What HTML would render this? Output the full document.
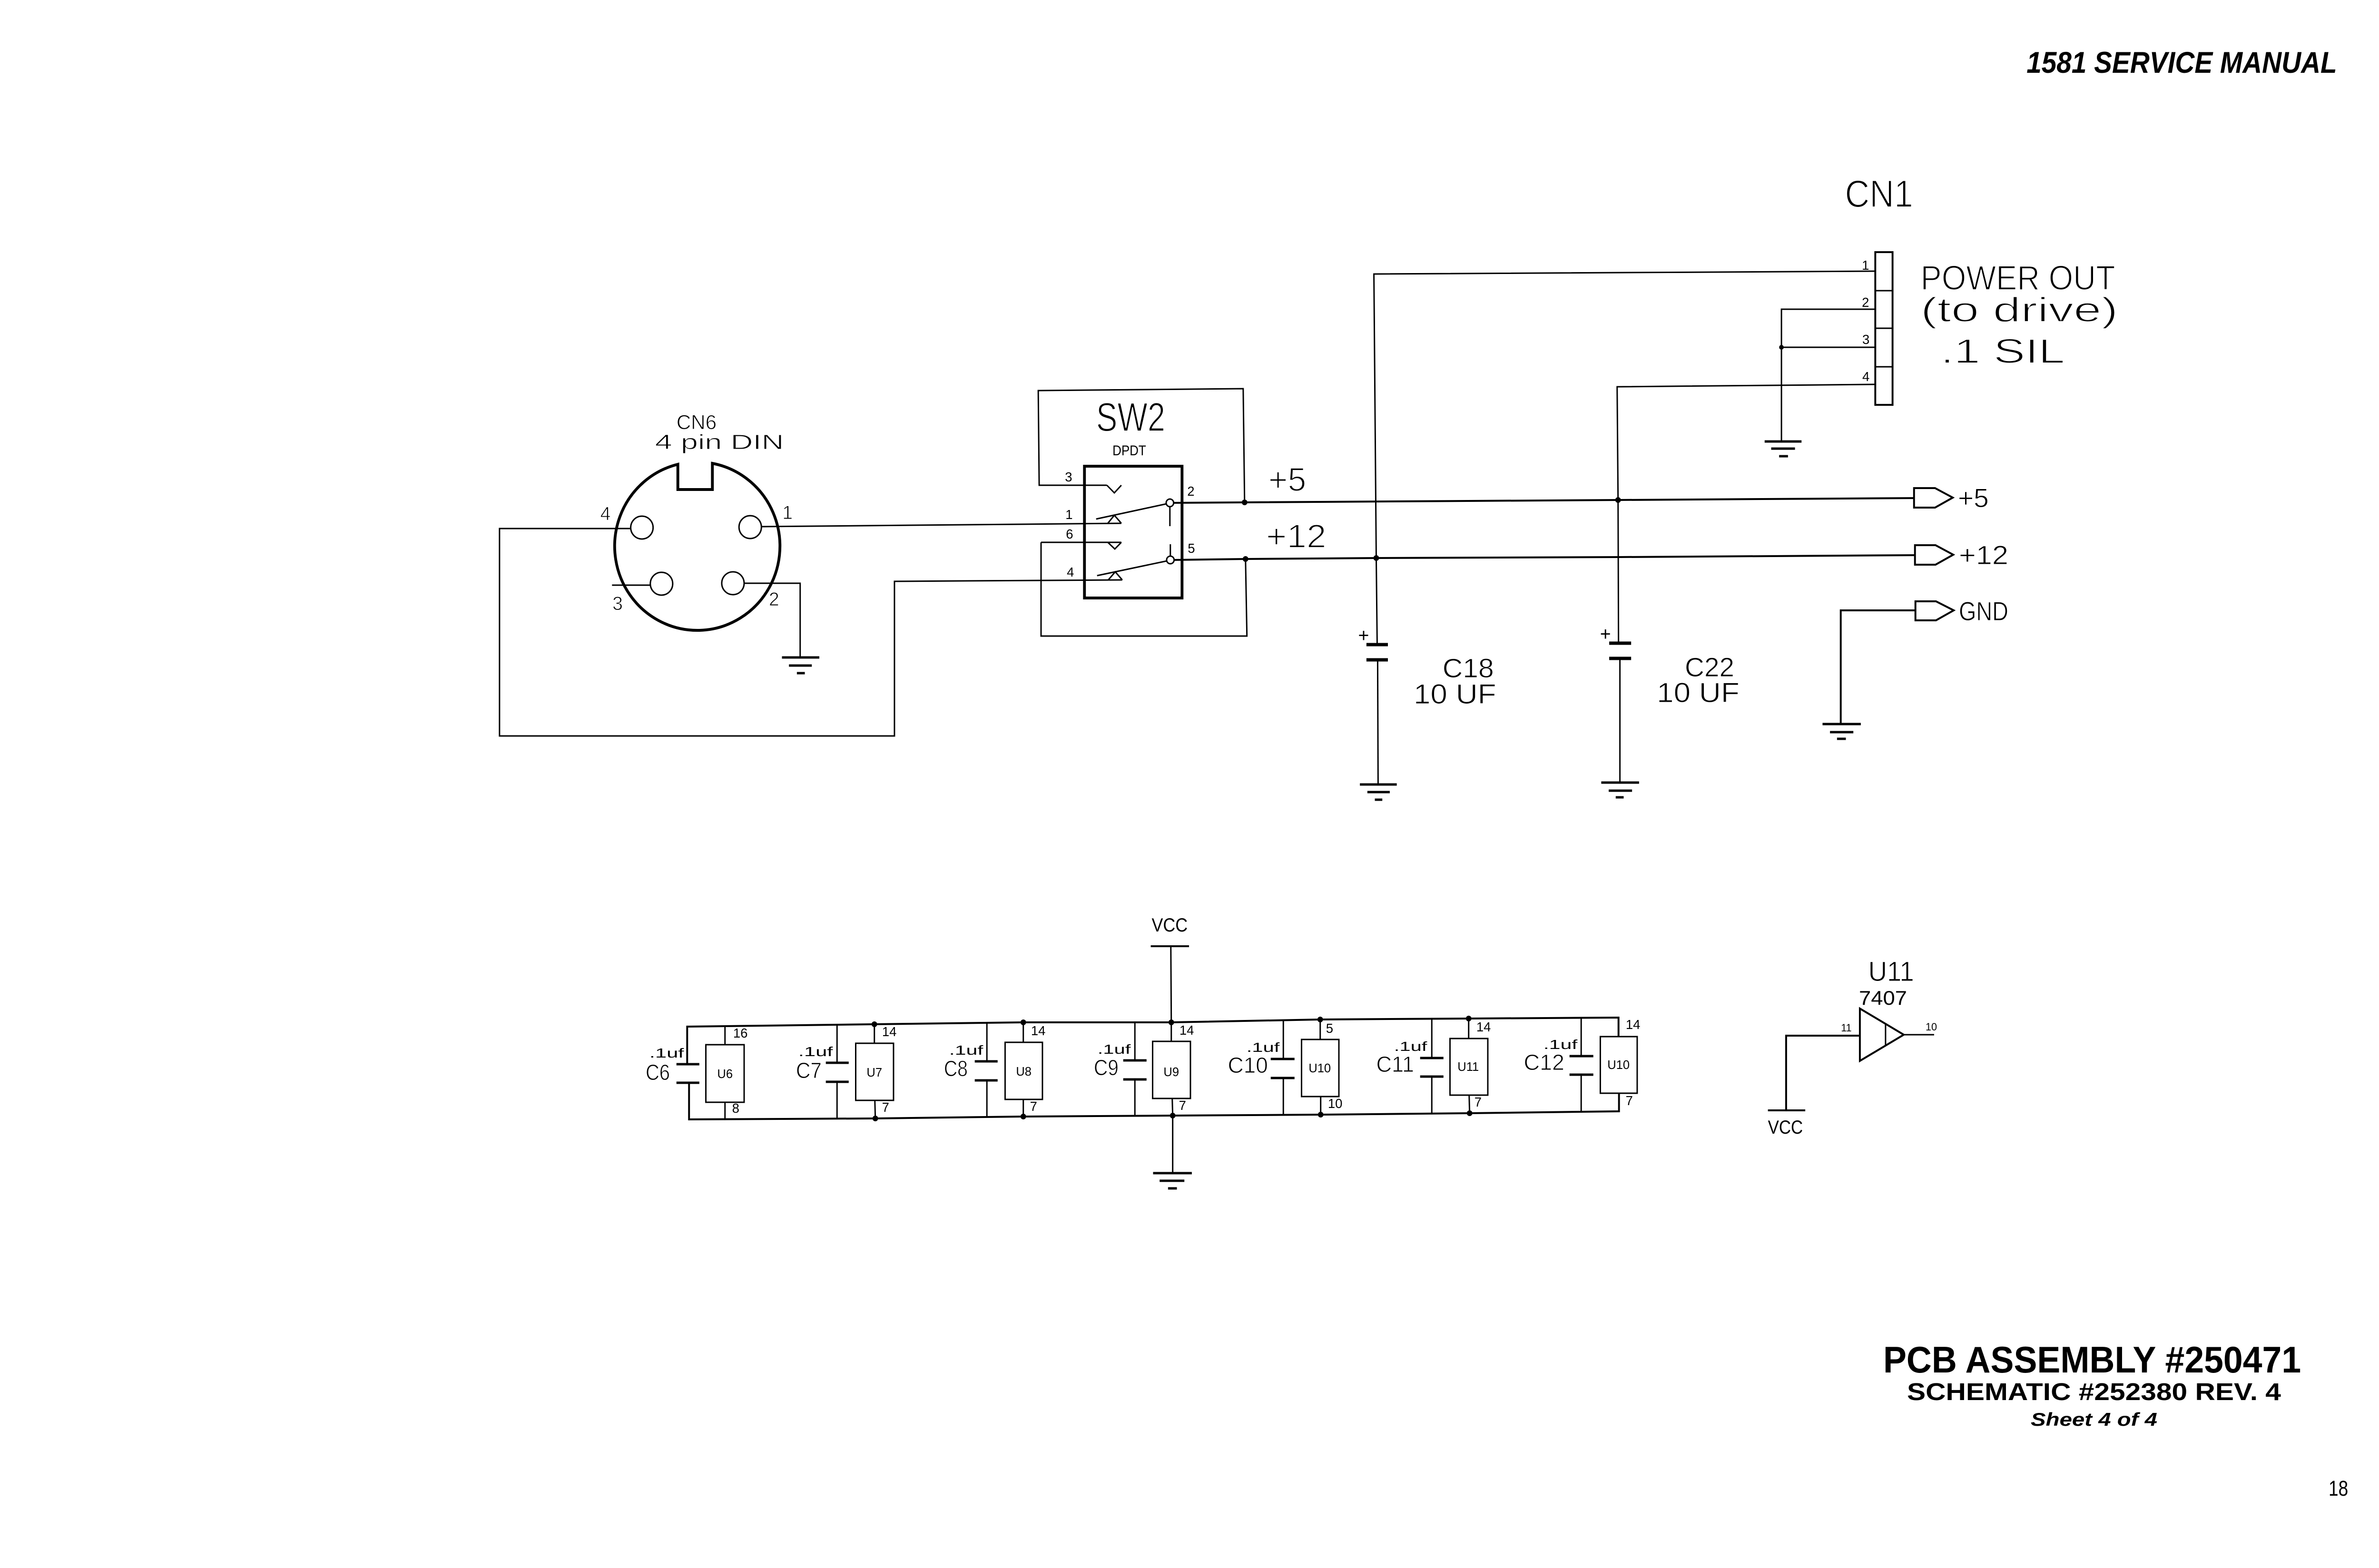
<!DOCTYPE html>
<html>
<head>
<meta charset="utf-8">
<style>
html,body{margin:0;padding:0;background:#fff;overflow:hidden;width:100%;height:100%;}
svg{display:block;width:100vw;height:100vh;}
.t{font-family:"Liberation Sans",sans-serif;fill:#000;}
.L{stroke:#fff;stroke-width:2;}
.M{stroke:#fff;stroke-width:1;}
.b{font-family:"Liberation Sans",sans-serif;font-weight:bold;fill:#000;}
.w{fill:none;stroke:#000;stroke-width:3;stroke-linejoin:miter;}
.k{fill:none;stroke:#000;stroke-width:6;}
.g{fill:none;stroke:#000;stroke-width:5;}
.d{fill:#000;}
</style>
</head>
<body>
<svg viewBox="0 0 5096 3296" preserveAspectRatio="none" xmlns="http://www.w3.org/2000/svg">
<rect x="0" y="0" width="5096" height="3296" fill="#fff"/>

<!-- Header -->
<text class="b" x="4341" y="153" font-size="63" font-style="italic" textLength="665" lengthAdjust="spacingAndGlyphs">1581 SERVICE MANUAL</text>

<!-- ================= CN6 ================= -->
<text class="t M" x="1449" y="902" font-size="43" textLength="86" lengthAdjust="spacingAndGlyphs">CN6</text>
<text class="t M" x="1403" y="944" font-size="44" textLength="276" lengthAdjust="spacingAndGlyphs">4 pin DIN</text>
<path class="k" d="M1526 974 A177 177 0 1 1 1452 976 L1452 1029 L1526 1029 Z"/>
<circle class="w" cx="1375" cy="1109" r="24"/>
<circle class="w" cx="1607" cy="1108" r="24"/>
<circle class="w" cx="1417" cy="1227" r="24"/>
<circle class="w" cx="1570" cy="1226" r="24"/>
<text class="t M" x="1297" y="1093" font-size="40" text-anchor="middle">4</text>
<text class="t M" x="1687" y="1091" font-size="40" text-anchor="middle">1</text>
<text class="t M" x="1323" y="1282" font-size="40" text-anchor="middle">3</text>
<text class="t M" x="1658" y="1273" font-size="40" text-anchor="middle">2</text>
<path class="w" d="M1351 1111 L1070 1111 L1070 1547 L1916 1547 L1916 1222 L2404 1219"/>
<path class="w" d="M1631 1107 L2402 1100"/>
<path class="w" d="M1311 1230 L1393 1230"/>
<path class="w" d="M1594 1226 L1714 1226 L1714 1382"/>
<path class="g" d="M1675 1382 L1755 1382 M1690 1399 L1739 1399 M1707 1415 L1724 1415"/>

<!-- ================= SW2 ================= -->
<path class="w" d="M2371 1020 L2226 1020 L2224 821 L2663 817 L2666 1056"/>
<circle class="d" cx="2666" cy="1056" r="6"/>
<rect class="k" x="2323" y="980" width="209" height="277"/>
<text class="t L" x="2348" y="906" font-size="85" textLength="148" lengthAdjust="spacingAndGlyphs">SW2</text>
<text class="t" x="2383" y="957" font-size="30" textLength="72" lengthAdjust="spacingAndGlyphs">DPDT</text>
<text class="t" x="2289" y="1012" font-size="28" text-anchor="middle">3</text>
<text class="t" x="2290" y="1091" font-size="28" text-anchor="middle">1</text>
<text class="t" x="2291" y="1132" font-size="28" text-anchor="middle">6</text>
<text class="t" x="2293" y="1212" font-size="28" text-anchor="middle">4</text>
<text class="t" x="2551" y="1042" font-size="28" text-anchor="middle">2</text>
<text class="t" x="2552" y="1162" font-size="28" text-anchor="middle">5</text>
<path class="w" d="M2371 1020 L2387 1036 L2402 1020"/>
<path class="w" d="M2373 1100 L2387 1083 L2402 1100"/>
<path class="w" d="M2348 1091 L2499 1059"/>
<circle class="w" cx="2506" cy="1057" r="8" fill="#fff"/>
<path class="w" d="M2506 1065 L2506 1106"/>
<path class="w" d="M2230 1140 L2402 1140"/>
<path class="w" d="M2373 1140 L2388 1154 L2402 1140"/>
<path class="w" d="M2230 1140 L2230 1337 L2671 1337 L2668 1175"/>
<circle class="d" cx="2668" cy="1175" r="6"/>
<path class="w" d="M2507 1144 L2507 1169"/>
<circle class="w" cx="2507" cy="1177" r="8" fill="#fff"/>
<path class="w" d="M2350 1210 L2500 1179"/>
<path class="w" d="M2374 1219 L2389 1202 L2404 1219"/>

<!-- ================= Buses ================= -->
<path class="w" style="stroke-width:4" d="M2514 1057 L2666 1056 L3466 1051 L4100 1047"/>
<path class="w" style="stroke-width:4" d="M2515 1177 L2668 1175 L2948 1173 L3466 1171 L4102 1167"/>
<text class="t L" x="2717" y="1032" font-size="70" textLength="81" lengthAdjust="spacingAndGlyphs">+5</text>
<text class="t L" x="2712" y="1151" font-size="70" textLength="129" lengthAdjust="spacingAndGlyphs">+12</text>
<circle class="d" cx="3466" cy="1051" r="6"/>
<circle class="d" cx="2948" cy="1173" r="6"/>

<!-- ================= CN1 ================= -->
<text class="t L" x="3952" y="435" font-size="81" textLength="146" lengthAdjust="spacingAndGlyphs">CN1</text>
<rect class="w" style="stroke-width:4" x="4017" y="530" width="37" height="321"/>
<path class="w" d="M4017 611 L4054 611 M4017 690 L4054 690 M4017 771 L4054 771"/>
<text class="t" x="3996" y="567" font-size="28" text-anchor="middle">1</text>
<text class="t" x="3996" y="645" font-size="28" text-anchor="middle">2</text>
<text class="t" x="3997" y="723" font-size="28" text-anchor="middle">3</text>
<text class="t" x="3997" y="801" font-size="28" text-anchor="middle">4</text>
<text class="t L" x="4114" y="609" font-size="72" textLength="417" lengthAdjust="spacingAndGlyphs">POWER OUT</text>
<text class="t L" x="4114" y="676" font-size="72" textLength="423" lengthAdjust="spacingAndGlyphs">(to drive)</text>
<text class="t L" x="4157" y="763" font-size="72" textLength="266" lengthAdjust="spacingAndGlyphs">.1 SIL</text>
<path class="w" d="M4017 570 L2943 576 L2948 1173 L2950 1355"/>
<path class="w" d="M4017 650 L3816 650 L3816 928 M4017 730 L3816 730"/>
<circle class="d" cx="3816" cy="730" r="5"/>
<path class="g" d="M3780 928 L3859 928 M3794 943 L3845 943 M3811 959 L3830 959"/>
<path class="w" d="M4017 808 L3464 813 L3466 1051 L3467 1352"/>

<!-- ================= C18 / C22 ================= -->
<path class="k" style="stroke-width:7" d="M2927 1355 L2973 1355 M2927 1387 L2973 1387"/>
<path class="w" d="M2951 1387 L2952 1649"/>
<path class="g" d="M2913 1649 L2992 1649 M2929 1665 L2977 1665 M2945 1681 L2961 1681"/>
<text class="t" x="2921" y="1349" font-size="40" text-anchor="middle">+</text>
<text class="t M" x="3090" y="1424" font-size="57" textLength="110" lengthAdjust="spacingAndGlyphs">C18</text>
<text class="t M" x="3028" y="1479" font-size="58" textLength="177" lengthAdjust="spacingAndGlyphs">10 UF</text>

<path class="k" style="stroke-width:7" d="M3447 1352 L3494 1352 M3447 1384 L3494 1384"/>
<path class="w" d="M3470 1384 L3470 1645"/>
<path class="g" d="M3430 1645 L3511 1645 M3446 1662 L3496 1662 M3461 1676 L3478 1676"/>
<text class="t" x="3439" y="1346" font-size="40" text-anchor="middle">+</text>
<text class="t M" x="3609" y="1422" font-size="57" textLength="106" lengthAdjust="spacingAndGlyphs">C22</text>
<text class="t M" x="3549" y="1476" font-size="58" textLength="177" lengthAdjust="spacingAndGlyphs">10 UF</text>

<!-- ================= Ports ================= -->
<path class="w" style="stroke-width:4" d="M4100 1026 L4145 1026 L4183 1046 L4145 1067 L4100 1067 Z"/>
<text class="t M" x="4194" y="1066" font-size="56" textLength="66" lengthAdjust="spacingAndGlyphs">+5</text>
<path class="w" style="stroke-width:4" d="M4102 1146 L4146 1146 L4184 1166 L4146 1187 L4102 1187 Z"/>
<text class="t M" x="4196" y="1186" font-size="56" textLength="106" lengthAdjust="spacingAndGlyphs">+12</text>
<path class="w" style="stroke-width:4" d="M4103 1264 L4147 1264 L4185 1283 L4147 1304 L4103 1304 Z"/>
<text class="t M" x="4196" y="1304" font-size="56" textLength="106" lengthAdjust="spacingAndGlyphs">GND</text>
<path class="w" style="stroke-width:4" d="M4103 1283 L3943 1283 L3943 1522"/>
<path class="g" d="M3904 1522 L3986 1522 M3920 1539 L3970 1539 M3935 1553 L3954 1553"/>

<!-- ================= Bypass capacitor row ================= -->
<text class="t" x="2467" y="1958" font-size="40" textLength="77" lengthAdjust="spacingAndGlyphs">VCC</text>
<path class="w" style="stroke-width:4" d="M2465 1989 L2547 1989"/>
<path class="w" d="M2508 1989 L2509 2149"/>
<path class="w" style="stroke-width:4" d="M1472 2237 L1472 2158 L1873 2153 L2192 2149 L2509 2149 L2828 2143 L3146 2141 L3467 2139 L3467 2179"/>
<path class="w" style="stroke-width:4" d="M1476 2276 L1476 2353 L1875 2351 L2192 2347 L2512 2345 L2829 2343 L3148 2340 L3468 2336 L3468 2298"/>
<path class="w" d="M2512 2345 L2512 2466"/>
<path class="g" d="M2470 2466 L2553 2466 M2484 2482 L2537 2482 M2502 2498 L2521 2498"/>
<g class="d">
<circle cx="1873" cy="2153" r="6"/><circle cx="1875" cy="2351" r="6"/>
<circle cx="2192" cy="2149" r="6"/><circle cx="2192" cy="2347" r="6"/>
<circle cx="2509" cy="2149" r="6"/><circle cx="2512" cy="2345" r="6"/>
<circle cx="2828" cy="2143" r="6"/><circle cx="2829" cy="2343" r="6"/>
<circle cx="3146" cy="2141" r="6"/><circle cx="3148" cy="2340" r="6"/>
</g>

<!-- C6 / U6 -->
<path class="g" d="M1449 2237 L1498 2237 M1449 2276 L1498 2276"/>
<rect class="w" x="1512" y="2196" width="82" height="121"/>
<path class="w" d="M1553 2157 L1553 2196 M1553 2317 L1553 2353"/>
<text class="t" x="1586" y="2181" font-size="28" text-anchor="middle">16</text>
<text class="t" x="1576" y="2339" font-size="28" text-anchor="middle">8</text>
<text class="t" x="1553" y="2266" font-size="26" text-anchor="middle">U6</text>
<text class="t" x="1391" y="2223" font-size="28" textLength="74" lengthAdjust="spacingAndGlyphs">.1uf</text>
<text class="t M" x="1383" y="2270" font-size="46" textLength="52" lengthAdjust="spacingAndGlyphs">C6</text>

<!-- C7 / U7 -->
<path class="w" d="M1793 2155 L1793 2234 M1793 2274 L1793 2352"/>
<path class="g" d="M1769 2234 L1818 2234 M1769 2274 L1818 2274"/>
<rect class="w" x="1833" y="2193" width="81" height="120"/>
<path class="w" d="M1873 2153 L1873 2193 M1874 2313 L1875 2351"/>
<text class="t" x="1905" y="2178" font-size="28" text-anchor="middle">14</text>
<text class="t" x="1897" y="2337" font-size="28" text-anchor="middle">7</text>
<text class="t" x="1873" y="2263" font-size="26" text-anchor="middle">U7</text>
<text class="t" x="1710" y="2220" font-size="28" textLength="74" lengthAdjust="spacingAndGlyphs">.1uf</text>
<text class="t M" x="1705" y="2266" font-size="46" textLength="55" lengthAdjust="spacingAndGlyphs">C7</text>

<!-- C8 / U8 -->
<path class="w" d="M2114 2150 L2114 2231 M2114 2271 L2114 2348"/>
<path class="g" d="M2088 2231 L2137 2231 M2088 2271 L2137 2271"/>
<rect class="w" x="2153" y="2191" width="80" height="120"/>
<path class="w" d="M2192 2149 L2192 2191 M2192 2311 L2192 2347"/>
<text class="t" x="2224" y="2176" font-size="28" text-anchor="middle">14</text>
<text class="t" x="2214" y="2335" font-size="28" text-anchor="middle">7</text>
<text class="t" x="2193" y="2261" font-size="26" text-anchor="middle">U8</text>
<text class="t" x="2033" y="2217" font-size="28" textLength="73" lengthAdjust="spacingAndGlyphs">.1uf</text>
<text class="t M" x="2022" y="2262" font-size="46" textLength="51" lengthAdjust="spacingAndGlyphs">C8</text>

<!-- C9 / U9 -->
<path class="w" d="M2431 2149 L2431 2229 M2431 2269 L2431 2346"/>
<path class="g" d="M2406 2229 L2456 2229 M2406 2269 L2456 2269"/>
<rect class="w" x="2469" y="2189" width="81" height="120"/>
<path class="w" d="M2509 2149 L2509 2189 M2511 2309 L2512 2345"/>
<text class="t" x="2542" y="2175" font-size="28" text-anchor="middle">14</text>
<text class="t" x="2533" y="2333" font-size="28" text-anchor="middle">7</text>
<text class="t" x="2509" y="2262" font-size="26" text-anchor="middle">U9</text>
<text class="t" x="2351" y="2215" font-size="28" textLength="71" lengthAdjust="spacingAndGlyphs">.1uf</text>
<text class="t M" x="2343" y="2260" font-size="46" textLength="53" lengthAdjust="spacingAndGlyphs">C9</text>

<!-- C10 / U10 -->
<path class="w" d="M2749 2145 L2749 2226 M2749 2266 L2749 2344"/>
<path class="g" d="M2722 2226 L2773 2226 M2722 2266 L2773 2266"/>
<rect class="w" x="2788" y="2185" width="80" height="120"/>
<path class="w" d="M2828 2143 L2828 2185 M2829 2305 L2829 2343"/>
<text class="t" x="2848" y="2171" font-size="28" text-anchor="middle">5</text>
<text class="t" x="2860" y="2329" font-size="28" text-anchor="middle">10</text>
<text class="t" x="2827" y="2254" font-size="26" text-anchor="middle">U10</text>
<text class="t" x="2670" y="2211" font-size="28" textLength="71" lengthAdjust="spacingAndGlyphs">.1uf</text>
<text class="t M" x="2630" y="2255" font-size="46" textLength="86" lengthAdjust="spacingAndGlyphs">C10</text>

<!-- C11 / U11 -->
<path class="w" d="M3067 2142 L3067 2224 M3067 2263 L3067 2341"/>
<path class="g" d="M3042 2224 L3092 2224 M3042 2263 L3092 2263"/>
<rect class="w" x="3106" y="2183" width="81" height="119"/>
<path class="w" d="M3146 2141 L3146 2183 M3147 2302 L3148 2340"/>
<text class="t" x="3178" y="2168" font-size="28" text-anchor="middle">14</text>
<text class="t" x="3166" y="2326" font-size="28" text-anchor="middle">7</text>
<text class="t" x="3145" y="2251" font-size="26" text-anchor="middle">U11</text>
<text class="t" x="2986" y="2209" font-size="28" textLength="71" lengthAdjust="spacingAndGlyphs">.1uf</text>
<text class="t M" x="2948" y="2253" font-size="46" textLength="81" lengthAdjust="spacingAndGlyphs">C11</text>

<!-- C12 / U10 -->
<path class="w" d="M3387 2140 L3387 2220 M3387 2259 L3387 2337"/>
<path class="g" d="M3362 2220 L3413 2220 M3362 2259 L3413 2259"/>
<rect class="w" x="3428" y="2179" width="79" height="119"/>
<text class="t" x="3498" y="2163" font-size="28" text-anchor="middle">14</text>
<text class="t" x="3490" y="2323" font-size="28" text-anchor="middle">7</text>
<text class="t" x="3467" y="2247" font-size="26" text-anchor="middle">U10</text>
<text class="t" x="3306" y="2205" font-size="28" textLength="73" lengthAdjust="spacingAndGlyphs">.1uf</text>
<text class="t M" x="3264" y="2249" font-size="46" textLength="87" lengthAdjust="spacingAndGlyphs">C12</text>

<!-- ================= U11 7407 ================= -->
<text class="t M" x="4002" y="2062" font-size="58" textLength="98" lengthAdjust="spacingAndGlyphs">U11</text>
<text class="t" x="3982" y="2112" font-size="42" textLength="103" lengthAdjust="spacingAndGlyphs">7407</text>
<path class="w" style="stroke-width:4" d="M3984 2120 L4078 2175 L3984 2230 Z"/>
<path class="w" d="M4039 2152 L4039 2198"/>
<path class="w" style="stroke-width:4" d="M3826 2334 L3826 2177 L3984 2177"/>
<path class="w" d="M4078 2175 L4143 2175"/>
<text class="t" x="3955" y="2168" font-size="22" text-anchor="middle">11</text>
<text class="t" x="4137" y="2166" font-size="22" text-anchor="middle">10</text>
<path class="w" style="stroke-width:4" d="M3787 2334 L3867 2334"/>
<text class="t" x="3787" y="2383" font-size="40" textLength="75" lengthAdjust="spacingAndGlyphs">VCC</text>

<!-- ================= Title block ================= -->
<text class="b" x="4034" y="2885" font-size="78" textLength="895" lengthAdjust="spacingAndGlyphs">PCB ASSEMBLY #250471</text>
<text class="b" x="4085" y="2943" font-size="51" textLength="801" lengthAdjust="spacingAndGlyphs">SCHEMATIC #252380 REV. 4</text>
<text class="b" x="4350" y="2997" font-size="39" font-style="italic" textLength="271" lengthAdjust="spacingAndGlyphs">Sheet 4 of 4</text>
<text class="t" x="4988" y="3144" font-size="45" textLength="42" lengthAdjust="spacingAndGlyphs">18</text>
</svg>
</body>
</html>
